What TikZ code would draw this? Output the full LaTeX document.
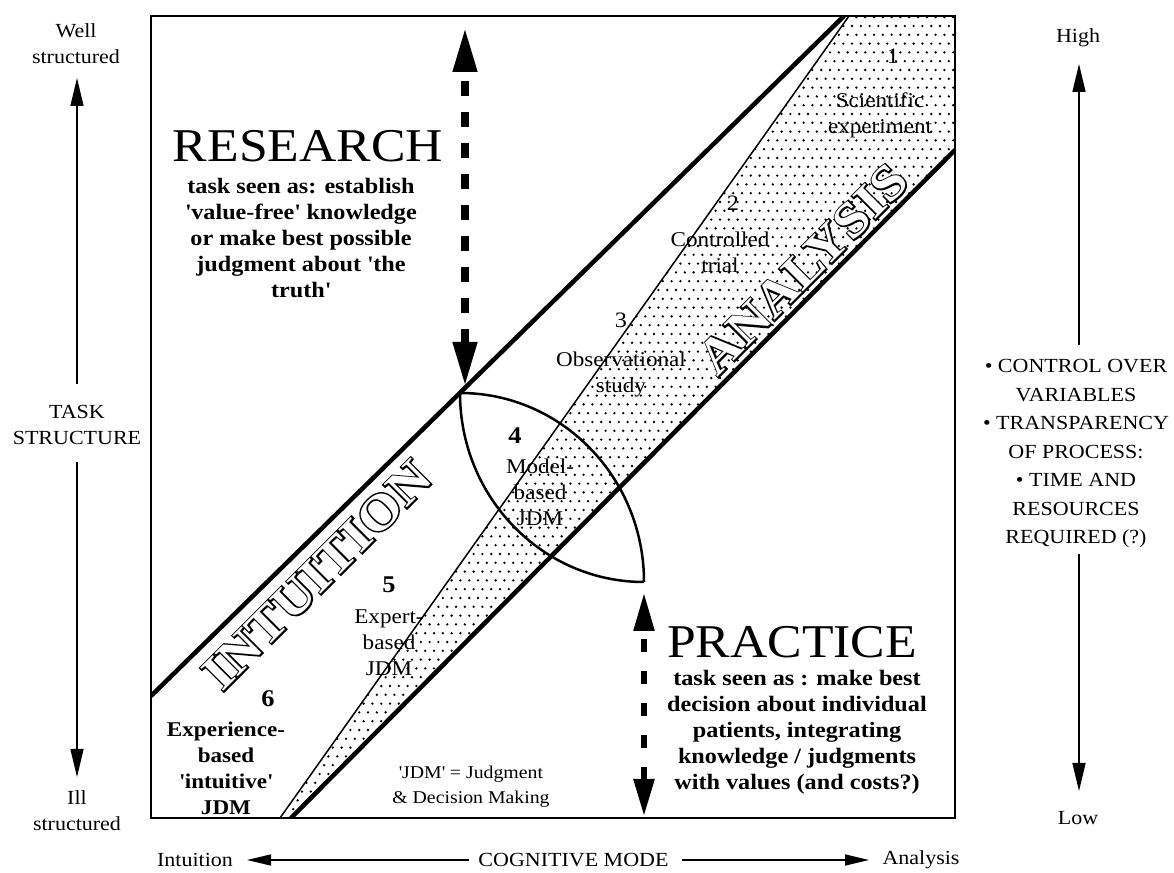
\documentclass[tikz,border=0pt]{standalone}
\usepackage{fontspec}
\setmainfont{Liberation Serif}[FakeStretch=1.1]
\newfontfamily\olfont{Liberation Serif}[FakeStretch=1.1,FakeBold=6]
\usetikzlibrary{arrows.meta}
\newcommand{\myq}{\textquotesingle}
\tikzset{
  txt/.style={inner sep=0pt, align=center, font=\fontsize{20}{26}\selectfont},
  rtxt/.style={inner sep=0pt, align=center, font=\fontsize{20}{28.5}\selectfont},
  lab/.style={inner sep=0pt, align=center, font=\fontsize{21}{26}\selectfont},
  blab/.style={inner sep=0pt, align=center, font=\bfseries\fontsize{21}{26}\selectfont},
  small/.style={inner sep=0pt, align=center, font=\fontsize{18}{25}\selectfont},
  desc/.style={inner sep=0pt, align=center, font=\bfseries\fontsize{22}{26}\selectfont},
  big/.style={inner sep=0pt, font=\fontsize{47}{47}\selectfont},
  num/.style={inner sep=0pt, font=\fontsize{22}{22}\selectfont},
  bnum/.style={inner sep=0pt, font=\bfseries\fontsize{24}{24}\selectfont},
  olback/.style={inner sep=0pt, rotate=45, font=\olfont\bfseries\fontsize{50}{50}\selectfont},
  olfront/.style={inner sep=0pt, rotate=45, text=white, font=\bfseries\fontsize{50}{50}\selectfont},
  boldline/.style={line width=4.5pt},
  thinline/.style={line width=1.5pt},
  lensline/.style={line width=2.5pt},
  sidearrow/.style={line width=1.5pt, -{Triangle[width=13pt,length=28pt]}},
  botarrow/.style={line width=1.5pt, -{Triangle[width=11pt,length=24pt]}},
  resarrow/.style={line width=7.5pt, dash pattern=on 15pt off 16pt,
    {Triangle[width=23pt,length=44pt]}-{Triangle[width=23pt,length=44pt]}},
  pracarrow/.style={line width=5.5pt, dash pattern=on 13pt off 19pt,
    {Triangle[width=20pt,length=37pt]}-{Triangle[width=20pt,length=38pt]}},
}
\begin{document}
\begin{tikzpicture}[x=1pt,y=1pt]
\useasboundingbox (0,0) rectangle (1174,872);
\fill[white] (0,0) rectangle (1174,872);

% key coordinates
\coordinate (BL) at (151,54);
\coordinate (TR) at (955,856);
\coordinate (A1) at (151,176);
\coordinate (A2) at (844,856);
\coordinate (B1) at (280,54);
\coordinate (B2) at (849,856);
\coordinate (C1) at (291,54);
\coordinate (C2) at (955,722);
\coordinate (P1) at (460,479);
\coordinate (P2) at (644,290);

% dotted band
\begin{scope}
  \clip (B2) -- (955,856) -- (C2) -- (C1) -- (B1) -- cycle;
  \foreach \j in {0,...,92} {
    \foreach \i in {0,...,77} {
      \fill ({280+8.8*\i+4.4*mod(\j,2)}, {54+8.8*\j}) circle[radius=1.3];
    }
  }
\end{scope}

% lines inside the box
\begin{scope}
  \clip (BL) rectangle (TR);
  \draw[boldline] (A1) -- (A2);
  \draw[thinline] (B1) -- (B2);
  \draw[boldline] (C1) -- (C2);
\end{scope}
\draw[line width=2pt] (BL) rectangle (TR);

% lens
\draw[lensline] (P1) arc[start angle=90, end angle=0, x radius=184, y radius=189];
\draw[lensline] (P1) arc[start angle=180, end angle=270, x radius=184, y radius=189];

% outlined words
\node[olback]  (intuB) at (317,297) {INTUITION};
\node[olfront] (intuW) at (317,297) {INTUITION};
\node[olback]  (anaB) at (803,603) {ANALYSIS};
\node[olfront] (anaW) at (803,603) {ANALYSIS};

% research / practice
\node[big] (research) at (308,725.5) {RESEARCH};
\node[desc] (resdesc) at (301,634) {task seen as: establish\\\myq value-free\myq{} knowledge\\or make best possible\\judgment about \myq the\\truth\myq};
\node[big] (practice) at (792,230) {PRACTICE};
\node[desc] (pracdesc) at (797,140) {task seen as : make best\\decision about individual\\patients, integrating\\knowledge / judgments\\with values (and costs?)};

\coordinate (R1) at (465,844);
\coordinate (R2) at (465,486);
\draw[resarrow] (R2) -- (R1);
\coordinate (Q1) at (644,279);
\coordinate (Q2) at (644,56);
\draw[pracarrow] (Q2) -- (Q1);

% numbered labels
\node[num] (n1) at (893,816) {1};
\node[lab] (l1) at (880,757) {Scientific\\experiment};
\node[num] (n2) at (733,669) {2};
\node[lab] (l2) at (720,619.5) {Controlled\\trial};
\node[num] (n3) at (621,552) {3};
\node[lab] (l3) at (621,497.5) {Observational\\study};
\node[bnum] (n4) at (515,436) {4};
\node[lab] (l4) at (540,380) {Model-\\based\\JDM};
\node[bnum] (n5) at (389,287) {5};
\node[lab] (l5) at (389,229) {Expert-\\based\\JDM};
\node[bnum] (n6) at (268,173) {6};
\node[blab] (l6) at (226,103.5) {Experience-\\based\\\myq intuitive\myq\\JDM};
\node[small] (jdm) at (471,85.5) {\myq JDM\myq{} = Judgment\\\& Decision Making};

% left axis
\node[txt] (well) at (76,828) {Well\\structured};
\node[txt] (task) at (77,447) {TASK\\STRUCTURE};
\node[txt] (ill) at (77,61.5) {Ill\\structured};
\coordinate (LA1) at (77,488);
\coordinate (LA2) at (77,794);
\coordinate (LB1) at (77,410);
\coordinate (LB2) at (77,95);
\draw[sidearrow] (LA1) -- (LA2);
\draw[sidearrow] (LB1) -- (LB2);

% right axis
\node[txt] (high) at (1078,834) {High};
\node[txt] (low) at (1078,54) {Low};
\node[rtxt] (ctrl) at (1076,418) {\textbullet{} CONTROL OVER\\VARIABLES\\\textbullet{} TRANSPARENCY\\OF PROCESS:\\\textbullet{} TIME AND\\RESOURCES\\REQUIRED (?)};
\coordinate (RA1) at (1079,527);
\coordinate (RA2) at (1079,808);
\coordinate (RB1) at (1079,318);
\coordinate (RB2) at (1079,81);
\draw[sidearrow] (RA1) -- (RA2);
\draw[sidearrow] (RB1) -- (RB2);

% bottom axis
\node[txt] (intuit) at (195,12) {Intuition};
\node[txt] (cog) at (573.5,12) {COGNITIVE MODE};
\node[txt] (anal) at (921,12) {Analysis};
\coordinate (BA1) at (469,12);
\coordinate (BA2) at (247,12);
\coordinate (BB1) at (682,12);
\coordinate (BB2) at (869,12);
\draw[botarrow] (BA1) -- (BA2);
\draw[botarrow] (BB1) -- (BB2);
\end{tikzpicture}
\end{document}
